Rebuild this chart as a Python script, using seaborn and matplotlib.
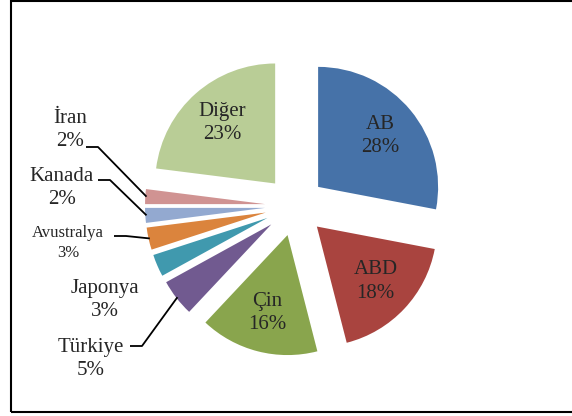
"""
Pie chart: share by country (exploded, Excel-like)
"""

import numpy as np
import seaborn as sns
import matplotlib.pyplot as plt
from matplotlib.patches import Rectangle

# data
countries = ["AB", "ABD", "Çin", "Türkiye", "Japonya", "Avustralya", "Kanada", "İran", "Diğer"]
shares = [28, 18, 16, 5, 3, 3, 2, 2, 23]
colors = ["#4672A8", "#A9443F", "#89A54D", "#715A90", "#4099AE",
          "#DB843D", "#93A9D0", "#D09392", "#B9CD96"]

inside = ["AB", "ABD", "Çin", "Diğer"]
# outer label layout (pixels, y up): text center, leader stub start (or None)
outer_pos = {
    "İran": ((70, 286), (86, 269)),
    "Kanada": ((62, 228), (98, 236)),
    "Avustralya": ((68, 173), (114, 180)),
    "Japonya": ((105, 116), None),
    "Türkiye": ((91, 57), (130, 70)),
}

sns.set_style("white")
plt.rcParams["font.family"] = ["Liberation Serif", "DejaVu Serif"]

fig = plt.figure(figsize=(5.72, 4.16), dpi=100)
ax = fig.add_axes([0, 0, 1, 1])

center = (295, 210)
radius = 120
wedges, _ = ax.pie(
    shares,
    colors=colors,
    startangle=90,
    counterclock=False,
    explode=[30] * len(shares),
    center=center,
    radius=radius,
    wedgeprops={"linewidth": 0},
)
ax.set_xlim(0, 572)
ax.set_ylim(0, 416)
ax.set_aspect("equal")
ax.axis("off")

for w, name, val in zip(wedges, countries, shares):
    mid = np.deg2rad((w.theta1 + w.theta2) / 2)
    cx, cy = w.center
    label = f"{name}\n{val}%"
    if name in inside:
        tx = cx + 0.67 * radius * np.cos(mid)
        ty = cy + 0.67 * radius * np.sin(mid)
        ax.text(tx, ty, label, ha="center", va="center", fontsize=15,
                linespacing=1.3)
        continue
    (x, y), stub = outer_pos[name]
    fs = 12 if name == "Avustralya" else 15
    ax.text(x, y, label, ha="center", va="center", fontsize=fs,
            linespacing=1.3)
    if stub is not None:
        ex = cx + 0.99 * radius * np.cos(mid)
        ey = cy + 0.99 * radius * np.sin(mid)
        sx, sy = stub
        ax.plot([sx, sx + 12, ex], [sy, sy, ey], color="black", lw=1.3,
                solid_capstyle="butt")

ax.add_patch(Rectangle((11, 4), 600, 411, fill=False, edgecolor="black",
                       lw=1.5, clip_on=False))

fig.savefig("out.png", dpi=100)
